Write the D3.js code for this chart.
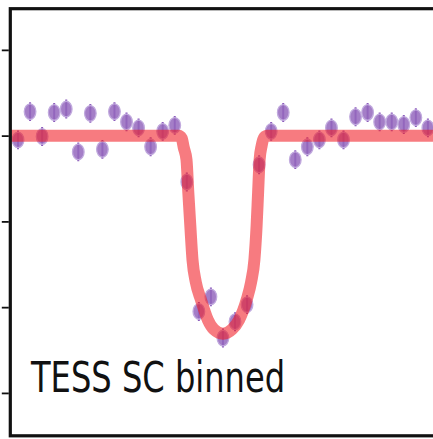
<!DOCTYPE html>
<html>
<head>
<meta charset="utf-8">
<script src="https://cdn.jsdelivr.net/npm/d3@7"></script>
<style>
  html, body { margin: 0; padding: 0; background: #fff; }
  svg { display: block; }
</style>
</head>
<body>
<svg id="chart" width="433" height="439"></svg>
<script>
// Binned TESS short-cadence points: time from mid-transit (hours) and relative flux
const binTime = [-1.7, -1.6, -1.5, -1.4, -1.3, -1.2, -1.1, -1.0, -0.9, -0.8, -0.7, -0.6,
  -0.5, -0.4, -0.3, -0.2, -0.1, 0.0, 0.1, 0.2, 0.3, 0.4, 0.5, 0.6, 0.7, 0.8, 0.9, 1.0,
  1.1, 1.2, 1.3, 1.4, 1.5, 1.6, 1.7, 1.8];
const binFlux = [0.99995, 1.00028, 0.99999, 1.00027, 1.00031, 0.99981, 1.00026, 0.99984,
  1.00028, 1.00016, 1.00009, 0.99987, 1.00005, 1.00012, 0.99946, 0.99795, 0.99812, 0.99764,
  0.99783, 0.99803, 0.99966, 1.00005, 1.00027, 0.99972, 0.99987, 0.99995, 1.00009, 0.99995,
  1.00022, 1.00027, 1.00016, 1.00016, 1.00013, 1.00021, 1.00009, 1.00027];
const binErr = 0.00011;

// Transit model curve
const modelTime = [-1.76, -0.367, -0.342, -0.325, -0.3025, -0.2875, -0.2708, -0.2525, -0.225,
  -0.1833, -0.125, -0.075, 0.0, 0.075, 0.1333, 0.1975, 0.2333, 0.2608, 0.2792, 0.2917,
  0.3042, 0.3208, 0.3417, 0.3667, 1.9];
const modelFlux = [1.0, 1.0, 0.99997, 0.99986, 0.99972, 0.99934, 0.99895, 0.99855, 0.99829,
  0.99809, 0.99785, 0.99774, 0.99769, 0.99774, 0.99785, 0.99809, 0.99829, 0.99855, 0.99895,
  0.99934, 0.99972, 0.99988, 0.99998, 1.0, 1.0];

const yTicks = [1.001, 1.000, 0.999, 0.998, 0.997];
const labelText = "TESS SC binned";

(function () {
const svg = d3.select("#chart");
const pLeft = 10.3, pRight = 452, pTop = 8.7, pBottom = 435.8;

const x = d3.scaleLinear().domain([-1.764, 1.9]).range([pLeft, pRight]);
const y = d3.scaleLinear().domain([0.9965, 1.00148]).range([pBottom, pTop]);

const plot = svg.append("g");
plot.append("defs").append("clipPath").attr("id", "clip")
  .append("rect").attr("x", pLeft).attr("y", pTop).attr("width", pRight - pLeft).attr("height", pBottom - pTop);

const data = binTime.map((t, i) => ({ t, f: binFlux[i] }));

const pts = plot.append("g").attr("clip-path", "url(#clip)");
const g = pts.selectAll("g.pt").data(data).join("g").attr("class", "pt");
g.append("line")
  .attr("x1", d => x(d.t)).attr("x2", d => x(d.t))
  .attr("y1", d => y(d.f + binErr)).attr("y2", d => y(d.f - binErr))
  .attr("stroke", "#8c5cbc").attr("stroke-width", 2);
g.append("ellipse")
  .attr("cx", d => x(d.t)).attr("cy", d => y(d.f))
  .attr("rx", 5.8).attr("ry", 7.8)
  .attr("fill", "#9467bd").attr("fill-opacity", 0.85)
  .attr("stroke", "#c1aade").attr("stroke-width", 1.3);

const line = d3.line().x((d, i) => x(modelTime[i])).y(d => y(d)).curve(d3.curveMonotoneX);
pts.append("path")
  .attr("d", line(modelFlux))
  .attr("fill", "none")
  .attr("stroke", "#f21c24")
  .attr("stroke-opacity", 0.58)
  .attr("stroke-width", 12)
  .attr("stroke-linejoin", "round");

// Frame
plot.append("rect")
  .attr("x", pLeft).attr("y", pTop)
  .attr("width", pRight - pLeft).attr("height", pBottom - pTop)
  .attr("fill", "none").attr("stroke", "#111").attr("stroke-width", 3.2);

// Left axis ticks (labels cropped out)
const axis = d3.axisLeft(y).tickValues(yTicks).tickSize(7).tickFormat("");
const ax = plot.append("g").attr("transform", `translate(${pLeft - 1.5},0)`).call(axis);
ax.select(".domain").remove();
ax.selectAll(".tick line").attr("stroke", "#111").attr("stroke-width", 1.8);

// Label
plot.append("text")
  .attr("transform", `translate(31,391.5) scale(0.765,1)`)
  .attr("font-family", "DejaVu Sans")
  .attr("font-size", 42)
  .attr("fill", "#111")
  .text(labelText);
})();
</script>
</body>
</html>
